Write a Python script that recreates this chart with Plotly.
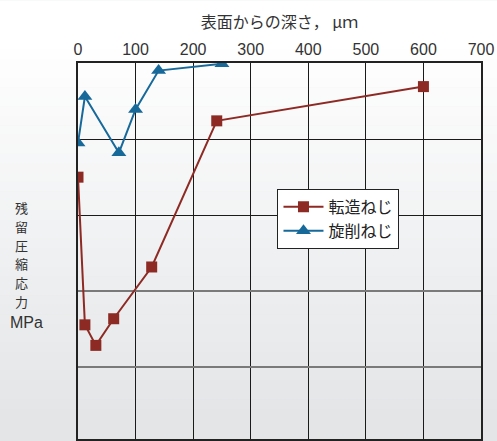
import plotly.graph_objects as go

# Depth from surface (µm)
rolled_depth = [0, 12, 31, 62, 128, 241, 600]
rolled_stress = [150, 344, 371, 336, 268, 76, 31]   # compressive residual stress (MPa, downward)
turned_depth = [0, 12, 71, 100, 140, 250]
turned_stress = [105, 44, 118, 61, 10, 1]

x_ticks = [0, 100, 200, 300, 400, 500, 600, 700]
series_names = ["転造ねじ", "旋削ねじ"]
x_title = "表面からの深さ， μｍ"
y_title = "残留圧縮応力"
y_unit = "MPa"

RED = "#8e2a24"
BLUE = "#17699a"
JP = "Noto Sans CJK JP"
NUM = "Liberation Sans"

W, H = 497, 441
ML, MR, MT, MB = 78, 16, 63, 0
PW, PH = W - ML - MR, H - MT - MB

def px2x(px):
    return (px - ML) / PW

def py2y(py):
    return 1 - (py - MT) / PH

fig = go.Figure()
fig.add_trace(go.Scatter(x=rolled_depth, y=rolled_stress, name=series_names[0],
                         mode="lines+markers",
                         line=dict(color=RED, width=2),
                         marker=dict(symbol="square", size=11, color=RED)))
fig.add_trace(go.Scatter(x=turned_depth, y=turned_stress, name=series_names[1],
                         mode="lines+markers",
                         line=dict(color=BLUE, width=2),
                         marker=dict(symbol="triangle-up", size=13, color=BLUE)))
# dummy trace to activate grid on yaxis2
fig.add_trace(go.Scatter(x=[None], y=[None], yaxis="y2", showlegend=False, hoverinfo="skip"))

# background gradient (white at top to light grey at bottom)
shapes = []
n = 40
top_px, bot_px = 40, 420
c0 = (255, 255, 255)
c1 = (227, 229, 231)
shapes.append(dict(type="rect", xref="paper", yref="paper", x0=px2x(0), x1=px2x(W),
                   y0=py2y(top_px), y1=py2y(0), fillcolor="rgb(255,255,255)",
                   line=dict(width=0), layer="below"))
for i in range(n):
    a = top_px + (bot_px - top_px) * i / n
    b = top_px + (bot_px - top_px) * (i + 1) / n + 0.5
    t = (i + 0.5) / n
    c = tuple(round(c0[k] + (c1[k] - c0[k]) * t) for k in range(3))
    shapes.append(dict(type="rect", xref="paper", yref="paper", x0=px2x(0), x1=px2x(W),
                       y0=py2y(b), y1=py2y(a), fillcolor="rgb(%d,%d,%d)" % c,
                       line=dict(width=0), layer="below"))
shapes.append(dict(type="rect", xref="paper", yref="paper", x0=px2x(0), x1=px2x(W),
                   y0=py2y(H + 2), y1=py2y(bot_px), fillcolor="rgb(%d,%d,%d)" % c1,
                   line=dict(width=0), layer="below"))

fig.update_layout(
    width=W, height=H,
    margin=dict(l=ML, r=MR, t=MT, b=MB),
    paper_bgcolor="rgb(%d,%d,%d)" % c1,
    plot_bgcolor="#e1dcda",
    shapes=shapes,
    showlegend=True,
    legend=dict(x=0.495, y=0.665, xanchor="left", yanchor="top",
                bgcolor="white", bordercolor="#222", borderwidth=1,
                font=dict(family=JP, size=16, color="#222"),
                tracegroupgap=0, itemwidth=40),
    xaxis=dict(side="top", range=[0, 700], tickvals=x_ticks,
               showgrid=True, gridcolor="#1a1a1a", gridwidth=1,
               showline=True, linecolor="#222", linewidth=1.5, mirror=True,
               ticks="", zeroline=False,
               tickfont=dict(family=NUM, size=16, color="#333"),
               title=dict(text=x_title, font=dict(family=JP, size=16, color="#333"), standoff=8)),
    yaxis=dict(range=[494, 0], tickvals=[100, 200], showticklabels=False,
               showgrid=True, gridcolor="#1a1a1a", gridwidth=1,
               showline=True, linecolor="#222", linewidth=2, mirror=True,
               ticks="", zeroline=False),
    yaxis2=dict(range=[494, 0], overlaying="y", tickvals=[300, 400], showticklabels=False,
                showgrid=True, gridcolor="#7a7a7a", gridwidth=2, ticks="",
                zeroline=False, showline=False),
)

# vertical y-axis title, one character per line
for i, ch in enumerate(y_title):
    fig.add_annotation(text=ch, xref="paper", yref="paper",
                       x=px2x(21), y=py2y(208 + 19 * i), xanchor="center", yanchor="middle",
                       showarrow=False, borderpad=0,
                       font=dict(family=JP, size=13, color="#333"))
fig.add_annotation(text=y_unit, xref="paper", yref="paper",
                   x=px2x(26), y=py2y(324), xanchor="center", yanchor="middle", showarrow=False,
                   font=dict(family=NUM, size=16, color="#333"))

fig.write_html("out.html")
